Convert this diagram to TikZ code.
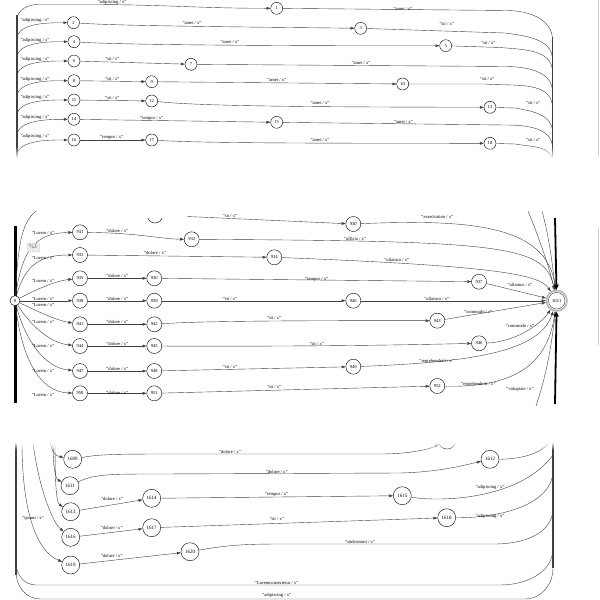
\documentclass[tikz,border=0pt]{standalone}
\usepackage{fontspec}
\setmainfont{Liberation Serif}
\usetikzlibrary{positioning, arrows.meta, fadings}

\newcommand{\lblfont}{\fontsize{4.6}{5}\selectfont}
\newcommand{\numfont}{\fontsize{4.6}{5}\selectfont}

\begin{document}
\begin{tikzpicture}[
        x=1pt, y=-1pt,
        st/.style={draw, circle, fill=white, inner sep=0pt, minimum size=12pt, line width=.4pt, font=\numfont},
        stm/.style={st, minimum size=15pt},
        stb/.style={st, minimum size=18pt, font=\fontsize{5}{5}\selectfont},
        fin/.style={st, minimum size=20.5pt, draw=black!30, line width=1.5pt,
            path picture={\draw[black!80, line width=.4pt] (path picture bounding box.center) circle[radius=8.3pt];}},
        arrow/.style={-{Triangle[length=4pt, width=2.7pt]}, line width=.4pt, black!75},
        edge/.style={line width=.4pt, black!75},
        trunk/.style={edge, line width=1.1pt},
        lbl/.style={font=\lblfont, inner sep=0pt},
        tip/.style={fill=black!7, draw=black!12, text=black!65, font=\sffamily\fontsize{5.5}{6}\selectfont, minimum width=12.6pt, minimum height=8pt, inner sep=0pt}
    ]
    \fill[white] (0,0) rectangle (600,600);
    \useasboundingbox (0,0) rectangle (600,600);

    % --- TOP: rows 1 to 18 ---
    \begin{scope}
    \clip (0,0) rectangle (600,157);
    \coordinate (tlt) at (17,15);
    \coordinate (tlb) at (17,158);
    \coordinate (trt) at (552.5,37);
    \coordinate (trb) at (552.5,158);
    \draw[trunk] (tlt) -- (tlb);
    \draw[trunk] (trt) -- (trb);

    \node[st] (n1) at (276.7,8.3) {1};
    \node[st] (n2) at (73.5,22.7) {2};
    \node[st] (n3) at (360.7,28.3) {3};
    \node[st] (n4) at (74,41.7) {4};
    \node[st] (n5) at (445.7,45.7) {5};
    \node[st] (n6) at (74,61) {6};
    \node[st] (n7) at (191,64.3) {7};
    \node[st] (n8) at (74,80.7) {8};
    \node[st] (n9) at (151.7,81.7) {9};
    \node[st] (n10) at (402.7,84) {10};
    \node[st] (n11) at (74,100) {11};
    \node[st] (n12) at (151.7,101) {12};
    \node[st] (n13) at (490,107.3) {13};
    \node[st] (n14) at (74,119.3) {14};
    \node[st] (n15) at (276.7,122.3) {15};
    \node[st] (n16) at (74,140) {16};
    \node[st] (n17) at (151.7,140) {17};
    \node[st] (n18) at (490,143.3) {18};

    \draw[arrow] (tlb) -- (17,20) to[out=90,in=180] (38,4.5) -- (90,4.5) to[out=0,in=180] (n1);
    \draw[arrow] (tlb) -- (17,39) to[out=90,in=180, looseness=.8] (n2);
    \draw[arrow] (tlb) -- (17,58) to[out=90,in=180, looseness=.8] (n4);
    \draw[arrow] (tlb) -- (17,77) to[out=90,in=180, looseness=.8] (n6);
    \draw[arrow] (tlb) -- (17,97) to[out=90,in=180, looseness=.8] (n8);
    \draw[arrow] (tlb) -- (17,116) to[out=90,in=180, looseness=.8] (n11);
    \draw[arrow] (tlb) -- (17,136) to[out=90,in=180, looseness=.8] (n14);
    \draw[arrow] (tlb) -- (17,156) to[out=90,in=180, looseness=.8] (n16);

    \draw[arrow] (n2) .. controls (120,26) and (250,27) .. (n3);
    \draw[arrow] (n4) .. controls (120,45) and (300,46) .. (n5);
    \draw[arrow] (n6) -- (n7);
    \draw[arrow] (n8) -- (n9);
    \draw[arrow] (n9) -- (n10);
    \draw[arrow] (n11) -- (n12);
    \draw[arrow] (n12) .. controls (200,106) and (300,107) .. (n13);
    \draw[arrow] (n14) -- (n15);
    \draw[arrow] (n16) -- (n17);
    \draw[arrow] (n17) .. controls (200,143) and (300,143.3) .. (n18);

    \draw[edge] (n1) -- (507,10.5) to[out=0,in=90] (552.5,40) -- (trb);
    \draw[edge] (n3) -- (505,33) to[out=-8,in=90] (552.5,60) -- (trb);
    \draw[edge] (n5) -- (500,47.5) to[out=-5,in=90] (552.5,72) -- (trb);
    \draw[edge] (n7) -- (505,66.5) to[out=0,in=90] (552.5,92) -- (trb);
    \draw[edge] (n10) -- (485,84) to[out=-5,in=90] (552.5,108) -- (trb);
    \draw[edge] (n13) -- (515,108) to[out=-10,in=90] (552.5,132) -- (trb);
    \draw[edge] (n15) -- (505,125) to[out=0,in=90] (552.5,148) -- (trb);
    \draw[edge] (n18) -- (515,144) to[out=-10,in=90] (552.5,162);

    \node[lbl] (la1) at (112,2.6) {"adipiscing / x"};
    \node[lbl] (la2) at (35,20.5) {"adipiscing / x"};
    \node[lbl] (la4) at (35,40) {"adipiscing / x"};
    \node[lbl] (la6) at (35,59) {"adipiscing / x"};
    \node[lbl] (la8) at (35,79) {"adipiscing / x"};
    \node[lbl] (la11) at (35,97.5) {"adipiscing / x"};
    \node[lbl] (la14) at (35,117.3) {"adipiscing / x"};
    \node[lbl] (la16) at (35,136.7) {"adipiscing / x"};
    \node[lbl] (l1) at (403,8.5) {"amet / x"};
    \node[lbl] (l23) at (192,22.7) {"amet / x"};
    \node[lbl] (l3) at (446.7,24) {"sit / x"};
    \node[lbl] (l45) at (230,42.3) {"amet / x"};
    \node[lbl] (l5) at (488.3,43.3) {"sit / x"};
    \node[lbl] (l67) at (112.3,59) {"sit / x"};
    \node[lbl] (l7) at (361,62.7) {"amet / x"};
    \node[lbl] (l89) at (112.3,79) {"sit / x"};
    \node[lbl] (l910) at (276.7,80) {"amet / x"};
    \node[lbl] (l10) at (487.3,79.3) {"sit / x"};
    \node[lbl] (l1112) at (112.3,98.3) {"sit / x"};
    \node[lbl] (l1213) at (320,103.3) {"amet / x"};
    \node[lbl] (l13) at (533.3,102.7) {"sit / x"};
    \node[lbl] (l1415) at (151.7,118.3) {"tempor / x"};
    \node[lbl] (l15) at (403.3,121.7) {"amet / x"};
    \node[lbl] (l1617) at (111.7,137.7) {"tempor / x"};
    \node[lbl] (l1718) at (320,140) {"amet / x"};
    \node[lbl] (l18) at (533.3,140) {"sit / x"};
    \fill[white, path fading=north] (0,146) rectangle (600,158);
    \end{scope}
    \draw[black!18, line width=.6pt] (598,0) -- (598,156);

    % --- MIDDLE: 0 to 1621 ---
    \begin{scope}
    \clip (0,211) rectangle (600,406);
    \coordinate (bt) at (15.5,226);
    \coordinate (bb) at (15.5,403);
    \coordinate (ft) at (555,218);
    \coordinate (fb) at (555,404);
    \draw[edge, line width=2.6pt, black] (bt) -- (bb);

    \node[st, minimum size=10pt] (n0) at (15,300.7) {0};
    \node[stm] (n931) at (80,232.3) {931};
    \node[stm] (n932) at (191.7,239.3) {932};
    \node[stm] (n933) at (80,255) {933};
    \node[stm] (n934) at (274.3,257.3) {934};
    \node[stm] (n935) at (80,278.3) {935};
    \node[stm] (n936) at (154.3,278.3) {936};
    \node[stm] (n938) at (80,300.7) {938};
    \node[stm] (n939) at (154.3,300.7) {939};
    \node[stm] (n941) at (80,324.3) {941};
    \node[stm] (n942) at (154.3,324.3) {942};
    \node[stm] (n944) at (80,346) {944};
    \node[stm] (n945) at (154.3,346) {945};
    \node[stm] (n947) at (80,371) {947};
    \node[stm] (n948) at (154.3,371) {948};
    \node[stm] (n950) at (80,393.3) {950};
    \node[stm] (n951) at (154.3,393.3) {951};
    \node[stm] (n930) at (353.3,224) {930};
    \node[stm] (n937) at (479,281.7) {937};
    \node[stm] (n940) at (353.3,300.7) {940};
    \node[stm] (n943) at (437.3,320.7) {943};
    \node[stm] (n946) at (479,343.3) {946};
    \node[stm] (n949) at (353.3,366.7) {949};
    \node[stm] (n952) at (437.3,386) {952};
    \node[fin] (n1621) at (556.7,300.7) {1621};
    \begin{scope}
    \clip (140,218) rectangle (170,230);
    \node[stm] (mcut) at (155,215.5) {};
    \end{scope}

    \coordinate (s930) at (187,216.5);
    \coordinate (cu) at (36,211);
    \coordinate (f1) at (528,211);
    \coordinate (f2) at (542,211);
    \coordinate (f3) at (536,406);

    \draw[edge] (n0) .. controls (18,250) and (20,224) .. (cu);
    \draw[arrow] (n0) .. controls (22,250) and (35,233) .. (n931);
    \draw[arrow] (n0) .. controls (25,265) and (40,255) .. (n933);
    \draw[arrow] (n0) .. controls (35,290) and (55,281) .. (n935);
    \draw[arrow] (n0) -- (n938);
    \draw[arrow] (n0) .. controls (35,310) and (55,320) .. (n941);
    \draw[arrow] (n0) .. controls (30,325) and (50,343) .. (n944);
    \draw[arrow] (n0) .. controls (25,340) and (45,368) .. (n947);
    \draw[arrow] (n0) .. controls (22,360) and (40,392) .. (n950);

    \draw[arrow] (n931) .. controls (140,233) and (160,239) .. (n932);
    \draw[arrow] (n933) -- (n934);
    \draw[arrow] (n935) -- (n936);
    \draw[arrow] (n938) -- (n939);
    \draw[arrow] (n941) -- (n942);
    \draw[arrow] (n944) -- (n945);
    \draw[arrow] (n947) -- (n948);
    \draw[arrow] (n950) -- (n951);
    \draw[arrow] (s930) -- (n930);
    \draw[arrow] (n936) -- (n937);
    \draw[arrow] (n939) -- (n940);
    \draw[arrow] (n942) .. controls (200,321) and (300,320.5) .. (n943);
    \draw[arrow] (n945) .. controls (350,346.7) and (440,344) .. (n946);
    \draw[arrow] (n948) -- (n949);
    \draw[arrow] (n951) -- (n952);

    \draw[arrow] (n930) .. controls (470,219) and (548,225) .. (n1621);
    \draw[arrow] (n932) .. controls (500,241) and (545,245) .. (n1621);
    \draw[arrow] (n934) .. controls (500,266) and (540,275) .. (n1621);
    \draw[arrow] (f1) .. controls (540,240) and (550,270) .. (n1621);
    \draw[arrow] (f2) .. controls (550,240) and (553,270) .. (n1621);
    \draw[arrow] (n937) -- (n1621);
    \draw[arrow] (n940) -- (n1621);
    \draw[arrow] (n943) -- (n1621);
    \draw[arrow] (n946) .. controls (515,342) and (540,325) .. (n1621);
    \draw[arrow] (n949) .. controls (480,362) and (540,350) .. (n1621);
    \draw[arrow] (n952) .. controls (520,388) and (548,360) .. (n1621);
    \draw[arrow] (f3) .. controls (548,370) and (552,340) .. (n1621);
    \draw[-{Triangle[length=5pt, width=4.5pt]}, line width=1.8pt] (ft) -- (n1621);
    \draw[-{Triangle[length=5pt, width=4.5pt]}, line width=1.8pt] (fb) -- (n1621);

    \node[lbl] (lm931) at (43,233) {"Lorem / x"};
    \node[lbl] (lm933) at (43,258) {"Lorem / x"};
    \node[lbl] (lm935) at (43,281) {"Lorem / x"};
    \node[lbl] (lm938) at (43,299) {"Lorem / x"};
    \node[lbl] (lm938b) at (43,305.3) {"Lorem / x"};
    \node[lbl] (lm941) at (43,322.3) {"Lorem / x"};
    \node[lbl] (lm944) at (43,345.7) {"Lorem / x"};
    \node[lbl] (lm947) at (43,370.7) {"Lorem / x"};
    \node[lbl] (lm950) at (43,395) {"Lorem / x"};
    \node[lbl] (ld931) at (117.3,230.7) {"dolore / x"};
    \node[lbl] (ld933) at (155,252.7) {"dolore / x"};
    \node[lbl] (ld935) at (117.3,276) {"dolore / x"};
    \node[lbl] (ld938) at (117.3,299) {"dolore / x"};
    \node[lbl] (ld941) at (117.3,322.3) {"dolore / x"};
    \node[lbl] (ld944) at (117.3,344.3) {"dolore / x"};
    \node[lbl] (ld947) at (117.3,369.3) {"dolore / x"};
    \node[lbl] (ld950) at (117.3,392.7) {"dolore / x"};
    \node[lbl] (ls930) at (230,215.7) {"sit / x"};
    \node[lbl] (ls939) at (230,299) {"sit / x"};
    \node[lbl] (ls942) at (274,318.3) {"sit / x"};
    \node[lbl] (ls945) at (316.7,344) {"sit / x"};
    \node[lbl] (ls948) at (230,366.7) {"sit / x"};
    \node[lbl] (ls951) at (274,387.3) {"sit / x"};
    \node[lbl] (lt936) at (316.7,279) {"tempor / x"};
    \node[lbl] (le930) at (437.3,217.3) {"exercitation / x"};
    \node[lbl] (lo932) at (355,239) {"officia / x"};
    \node[lbl] (lu934) at (396.7,260) {"ullamco / x"};
    \node[lbl] (lu937) at (520,285) {"ullamco / x"};
    \node[lbl] (lu940) at (436.7,299) {"ullamco / x"};
    \node[lbl] (lc943) at (478.3,311.7) {"commodo / x"};
    \node[lbl] (lc946) at (520,326) {"commodo / x"};
    \node[lbl] (lr949) at (436.7,361.7) {"reprehenderit / x"};
    \node[lbl] (lr952) at (478.3,384) {"reprehenderit / x"};
    \node[lbl] (lv) at (520,389.3) {"voluptate / x"};

    \node[tip] (tip) at (33,246.7) {\%3};
    \end{scope}
    \draw[black!18, line width=.6pt] (598,228) -- (598,345);

    % --- BOTTOM: 1609 to 1620 ---
    \begin{scope}
    \clip (0,443) rectangle (600,600);
    \coordinate (bl) at (16,442);
    \coordinate (blb) at (16,575);
    \coordinate (br) at (553,442);
    \coordinate (brb) at (553,568);
    \draw[trunk] (bl) -- (blb);
    \draw[trunk] (br) -- (brb);

    \node[stb] (n1609) at (72.7,459.3) {1609};
    \node[stb] (n1611) at (70,485.7) {1611};
    \node[stb] (n1613) at (70.7,511.7) {1613};
    \node[stb] (n1616) at (70.7,537.3) {1616};
    \node[stb] (n1619) at (70.7,565) {1619};
    \node[stb] (n1614) at (151.7,498.3) {1614};
    \node[stb] (n1617) at (151.7,527.7) {1617};
    \node[stb] (n1620) at (190,551.7) {1620};
    \node[stb] (n1612) at (490,459.3) {1612};
    \node[stb] (n1615) at (402.3,495.7) {1615};
    \node[stb] (n1618) at (446.7,517.7) {1618};
    \node[stb] (bcut) at (447,440) {};

    \coordinate (i1) at (50,442);
    \coordinate (i2) at (53,442);
    \coordinate (i3) at (55,442);
    \coordinate (i4) at (33,442);
    \coordinate (i5) at (22,442);
    \coordinate (e1612) at (549,442);

    \draw[arrow] (i1) .. controls (52,452) and (56,456) .. (n1609);
    \draw[arrow] (i2) .. controls (53,470) and (56,479) .. (n1611);
    \draw[arrow] (i3) .. controls (55,492) and (57,503) .. (n1613);
    \draw[arrow] (i4) .. controls (38,485) and (52,522) .. (n1616);
    \draw[arrow] (i5) .. controls (22,520) and (40,553) .. (n1619);

    \draw[arrow] (n1609) .. controls (100,454) and (120,454) .. (180,454) -- (380,454) .. controls (410,454) and (430,449) .. (bcut);
    \draw[arrow] (n1611) .. controls (95,474) and (110,474) .. (160,474) -- (400,473) .. controls (440,472) and (465,465) .. (n1612);
    \draw[arrow] (n1613) -- (n1614);
    \draw[arrow] (n1614) -- (n1615);
    \draw[arrow] (n1616) -- (n1617);
    \draw[arrow] (n1617) -- (n1618);
    \draw[arrow] (n1619) -- (n1620);

    \draw[edge] (n1612) .. controls (525,459) and (543,452) .. (e1612);
    \draw[edge] (n1615) .. controls (440,502) and (520,500) .. (553,455) -- (br);
    \draw[edge] (n1618) .. controls (500,518) and (553,505) .. (553,470) -- (br);
    \draw[edge] (n1620) to[out=10,in=180] (290,544) -- (495,544) to[out=0,in=-90] (553,508) -- (br);
    \draw[edge] (bl) -- (16,563) to[out=-90,in=180] (36,585) -- (500,585) to[out=0,in=-90] (553,548) -- (br);
    \draw[edge] (bl) -- (16,572) to[out=-90,in=180] (40,599) -- (525,599) to[out=0,in=-90] (553,568) -- (br);

    \node[lbl] (lb1609) at (230,451.7) {"dolore / x"};
    \node[lbl] (lb1611) at (276.7,472) {"dolore / x"};
    \node[lbl] (lb1613) at (112,499) {"dolore / x"};
    \node[lbl] (lb1614) at (276.7,494) {"tempor / x"};
    \node[lbl] (lb1615) at (490,487.7) {"adipiscing / x"};
    \node[lbl] (lb1616) at (111.7,527.7) {"dolore / x"};
    \node[lbl] (lb1617) at (276.7,519) {"sit / x"};
    \node[lbl] (lb1618) at (490,516) {"adipiscing / x"};
    \node[lbl] (lb1619) at (111.7,556) {"dolore / x"};
    \node[lbl] (lb1620) at (360,541.7) {"sitdeserunt / x"};
    \node[lbl] (lbi) at (33,518) {"ipsum / x"};
    \node[lbl] (lbu1) at (276.7,583.3) {"Loremconsectetur / x"};
    \node[lbl] (lbu2) at (276.7,595.7) {"adipiscing / x"};
    \fill[white, path fading=south] (0,442) rectangle (600,450);
    \end{scope}
\end{tikzpicture}
\end{document}
